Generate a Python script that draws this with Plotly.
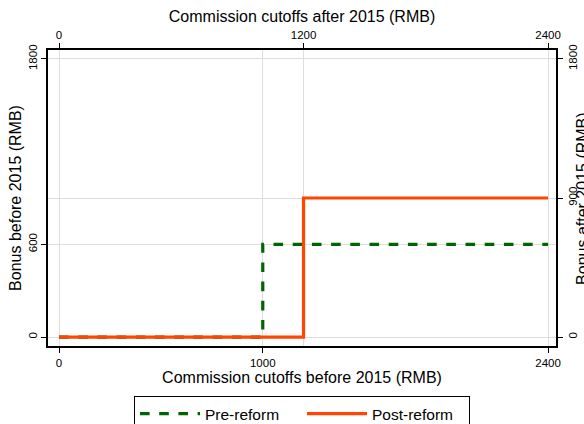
import plotly.graph_objects as go

# Data
pre_x = [0, 1000, 1000, 2400]      # commission cutoffs before 2015 (RMB)
pre_y = [0, 0, 600, 600]           # bonus before 2015 (RMB)
post_x = [0, 1200, 1200, 2400]     # commission cutoffs after 2015 (RMB)
post_y = [0, 0, 900, 900]          # bonus after 2015 (RMB)

x_bottom_ticks = [0, 1000, 2400]
x_top_ticks = [0, 1200, 2400]
y_left_ticks = [0, 600, 1800]
y_right_ticks = [0, 900, 1800]

FONT = "Liberation Sans, Arial, Helvetica, sans-serif"
GRID = "#dedede"

fig = go.Figure()
fig.add_trace(go.Scatter(x=pre_x, y=pre_y, mode="lines", name="Pre-reform",
                         line=dict(color="#006400", width=3.2, dash="dash"),
                         xaxis="x", yaxis="y"))
fig.add_trace(go.Scatter(x=post_x, y=post_y, mode="lines", name="Post-reform",
                         line=dict(color="#FF4500", width=3.2),
                         xaxis="x2", yaxis="y2"))

axis_common = dict(showline=True, linecolor="black", linewidth=1.5,
                   ticks="outside", ticklen=5, tickcolor="black", tickwidth=1,
                   showgrid=True, gridcolor=GRID, gridwidth=1, zeroline=False,
                   automargin=False,
                   tickfont=dict(family=FONT, size=11.5, color="black"))

TITLE_FONT = dict(family=FONT, size=16, color="black")

fig.update_layout(
    width=584, height=424,
    margin=dict(l=48, r=28, t=50, b=78, autoexpand=False),
    paper_bgcolor="white", plot_bgcolor="white",
    font=dict(family=FONT, color="black"),
    showlegend=True,
    xaxis=dict(range=[-54, 2439], tickvals=x_bottom_ticks, side="bottom",
               title=dict(text="Commission cutoffs before 2015 (RMB)",
                          font=TITLE_FONT, standoff=2),
               **axis_common),
    xaxis2=dict(range=[-54, 2439], tickvals=x_top_ticks, side="top",
                overlaying="x", anchor="y",
                title=dict(text="Commission cutoffs after 2015 (RMB)",
                           font=TITLE_FONT, standoff=2),
                **axis_common),
    yaxis=dict(range=[-58, 1858], tickvals=y_left_ticks, side="left",
               tickangle=-90,
               title=dict(text="Bonus before 2015 (RMB)",
                          font=TITLE_FONT, standoff=1),
               **axis_common),
    yaxis2=dict(range=[-58, 1858], tickvals=y_right_ticks, side="right",
                overlaying="y", anchor="x", tickangle=-90,
                **axis_common),
    legend=dict(orientation="h", x=0.5, xanchor="center", y=-0.169, yanchor="top",
                bordercolor="black", borderwidth=1, bgcolor="white",
                font=dict(family=FONT, size=15.5, color="black"),
                itemwidth=60, entrywidth=92),
    annotations=[dict(text="Bonus after 2015 (RMB)", xref="paper", yref="paper",
                      x=1.051, y=0.5, xanchor="center", yanchor="middle",
                      textangle=-90, showarrow=False, font=TITLE_FONT)],
)

fig.write_html("out.html", config={"displayModeBar": False},
               post_script="document.body.style.margin='0';document.body.style.padding='0';")
